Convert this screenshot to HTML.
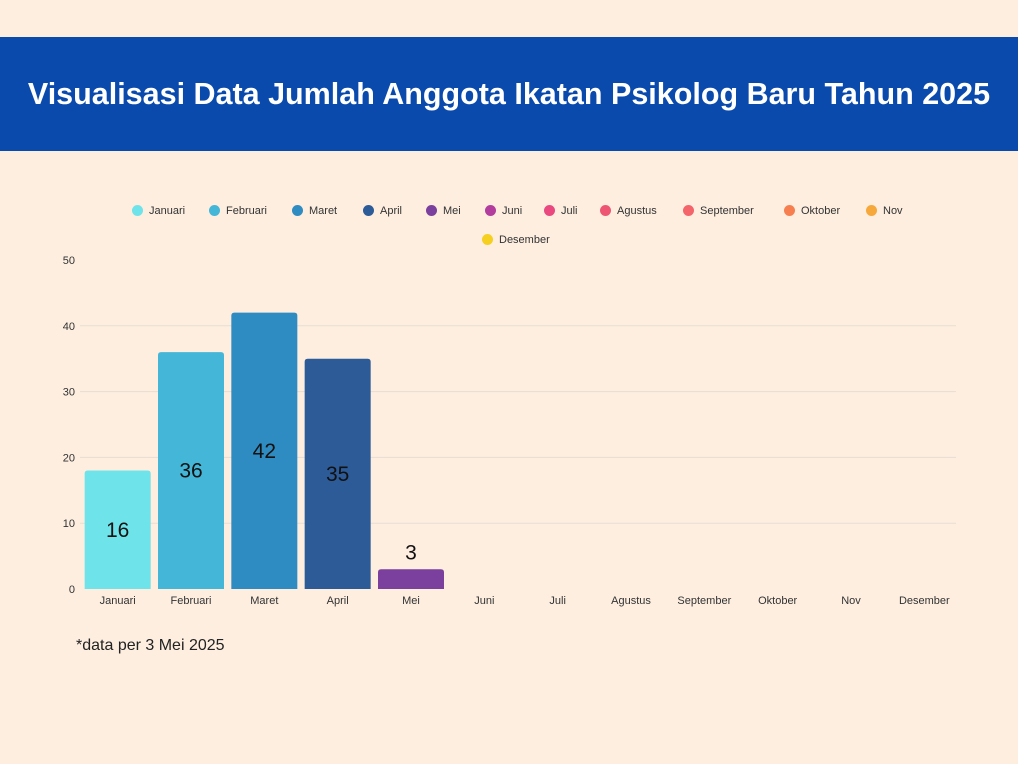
<!DOCTYPE html>
<html><head><meta charset="utf-8"><style>
body{margin:0;width:1018px;height:764px;background:#fdeee0;font-family:"Liberation Sans",sans-serif;position:relative;overflow:hidden}
#hdr{position:absolute;left:0;top:37px;width:1018px;height:114px;background:#0a4aad;color:#fff;font-weight:bold;font-size:30.5px;text-align:center;line-height:114px}
.lg{position:absolute;font-size:11px;color:#333;white-space:nowrap}
.lg i{display:inline-block;width:11px;height:11px;border-radius:50%;vertical-align:-2px;margin-right:6px}
#note{position:absolute;left:76px;top:637px;font-size:16px;color:#222}
</style></head><body>
<div id="hdr">Visualisasi Data Jumlah Anggota Ikatan Psikolog Baru Tahun 2025</div>
<div id="legend"></div>
<svg id="chart" width="1018" height="764" style="position:absolute;left:0;top:0"></svg>
<div id="note">*data per 3 Mei 2025</div>
<script>
const categories=["Januari","Februari","Maret","April","Mei","Juni","Juli","Agustus","September","Oktober","Nov","Desember"];
const values=[18,36,42,35,3,null,null,null,null,null,null,null];
const printed=["16","36","42","35","3"];
const yTicks=[0,10,20,30,40,50];
const colors=["#6fe3ea","#44b6d8","#2f8cc2","#2d5b97","#7b3f9e","#b23d9e","#e9497f","#ee5572","#f4646b","#f77f4f","#f7a83a","#f5d020"];
const legendX=[132,209,292,363,426,485,544,600,683,784,866,482];
const NS="http://www.w3.org/2000/svg";
const svg=document.getElementById('chart');
const x0=81,x1=961,yBase=589,yTop=260;
const step=(x1-x0)/categories.length;
const xC=i=>x0+step*(i+0.5);
const yS=v=>yBase-(v/50)*(yBase-yTop);
function mk(t,a){const e=document.createElementNS(NS,t);for(const k in a)e.setAttribute(k,a[k]);svg.appendChild(e);return e;}
yTicks.forEach(t=>{
 if(t>0&&t<50){const g=mk('line',{x1:80,x2:956,y1:yS(t),y2:yS(t),stroke:'#e8ddd2','stroke-width':1});
 
 }
 const l=mk('text',{x:75,y:yS(t)+4,'text-anchor':'end','font-size':11,fill:'#333'});l.textContent=t;
 
 
});
categories.forEach((c,i)=>{
 const l=mk('text',{x:xC(i),y:604,'text-anchor':'middle','font-size':11,fill:'#333'});l.textContent=c;
 
 
 const v=values[i];
 if(v!=null){
  const w=66,y=yS(v);
  const b=mk('path',{d:`M${xC(i)-w/2},${yBase} V${y+3} Q${xC(i)-w/2},${y} ${xC(i)-w/2+3},${y} H${xC(i)+w/2-3} Q${xC(i)+w/2},${y} ${xC(i)+w/2},${y+3} V${yBase} Z`,fill:colors[i]});
  
  
  const ty=v<10?y-10:(y+yBase)/2+7;
  const t=mk('text',{x:xC(i),y:ty,'text-anchor':'middle','font-size':21,fill:'#111'});t.textContent=printed[i]!=null?printed[i]:v;
  
  
 }
});
const lg=document.getElementById('legend');
categories.forEach((c,i)=>{
 const d=document.createElement('div');d.className='lg';
 d.style.left=legendX[i]+'px';d.style.top=(i<11?205:234)+'px';
 d.innerHTML='<i style="background:'+colors[i]+'"></i>'+c;
 
 
 lg.appendChild(d);
});
</script>
</body></html>
